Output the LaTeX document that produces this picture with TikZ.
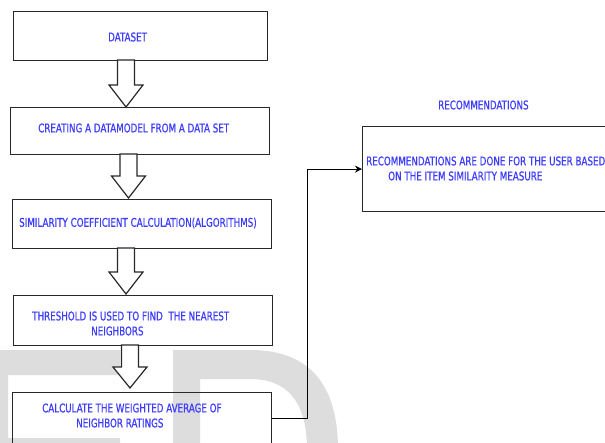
\documentclass[tikz,border=0pt]{standalone}
\usepackage{fontspec}
\newfontfamily\lblfont[FakeStretch=0.81,FakeBold=0.6]{DejaVu Sans Condensed}
\usetikzlibrary{arrows.meta}
\definecolor{txtblue}{RGB}{60,60,255}
\definecolor{wm}{RGB}{221,221,221}
\definecolor{edge}{RGB}{40,40,40}
\newcommand\barrow[4]{\draw[blockarrow] (#1-8.5,#2) -- (#1-8.5,#3) -- (#1-17,#3) -- (#1,#4) -- (#1+17,#3) -- (#1+8.5,#3) -- (#1+8.5,#2) -- cycle;}
\begin{document}
\begin{tikzpicture}[x=1pt,y=-1pt,
  box/.style={draw=edge, line width=1.2pt, inner sep=0pt, anchor=north west},
  blockarrow/.style={draw=edge, line width=1.2pt, fill=white, line join=miter},
  lbl/.style={font=\lblfont\fontsize{12}{14}\selectfont, text=txtblue, inner sep=0pt, anchor=west},
  conn/.style={draw=black, line width=1.2pt, -{Stealth[length=7pt,width=7pt]}}
]
\useasboundingbox (0,0) rectangle (605,442);
\clip (0,0) rectangle (605,442);
\fill[white] (0,0) rectangle (605,442);
% watermark
\fill[wm] (0,350) -- (120,350) -- (120,375) -- (8,375) -- (8,438) -- (120,438) -- (120,450) -- (0,450) -- cycle;
\fill[wm, even odd rule] (173,350) -- (250,350) .. controls (310,350) and (338,385) .. (338,450) -- (173,450) -- cycle
  (200,379) -- (250,379) .. controls (290,379) and (307,405) .. (307,450) -- (200,450) -- cycle;
% boxes
\node[box, minimum width=254pt, minimum height=49pt] (b1) at (13,11) {};
\node[box, minimum width=259pt, minimum height=47pt] (b2) at (10,107) {};
\node[box, minimum width=259pt, minimum height=49pt] (b3) at (12,199) {};
\node[box, minimum width=259pt, minimum height=50pt] (b4) at (13,295) {};
\node[box, minimum width=259pt, minimum height=52pt] (b5) at (12,392) {};
\node[box, minimum width=260pt, minimum height=85pt] (b6) at (362,126) {};
% block arrows
\barrow{126}{60}{85}{107}
\barrow{128.5}{154}{176}{198}
\barrow{126}{248}{272}{294}
\barrow{130}{345}{367}{388}
% connector
\draw[conn] (b5.east) -- ++(35,0) |- (b6.west);
% texts
\node[lbl] (t1) at (108,37) {DATASET};
\node[lbl] (t2) at (38,128) {CREATING A DATAMODEL FROM A DATA SET};
\node[lbl] (t3) at (19,223) {SIMILARITY COEFFICIENT CALCULATION(ALGORITHMS)};
\node[lbl] (t4a) at (32,316) {THRESHOLD IS USED TO FIND\ \ THE NEAREST};
\node[lbl] (t4b) at (91,331) {NEIGHBORS};
\node[lbl] (t5a) at (42,408) {CALCULATE THE WEIGHTED AVERAGE OF};
\node[lbl] (t5b) at (76,423) {NEIGHBOR RATINGS};
\node[lbl] (t6) at (438,105) {RECOMMENDATIONS};
\node[lbl] (t6a) at (366,161) {RECOMMENDATIONS ARE DONE FOR THE USER BASED};
\node[lbl] (t6b) at (388,176) {ON THE ITEM SIMILARITY MEASURE};
\end{tikzpicture}
\end{document}
